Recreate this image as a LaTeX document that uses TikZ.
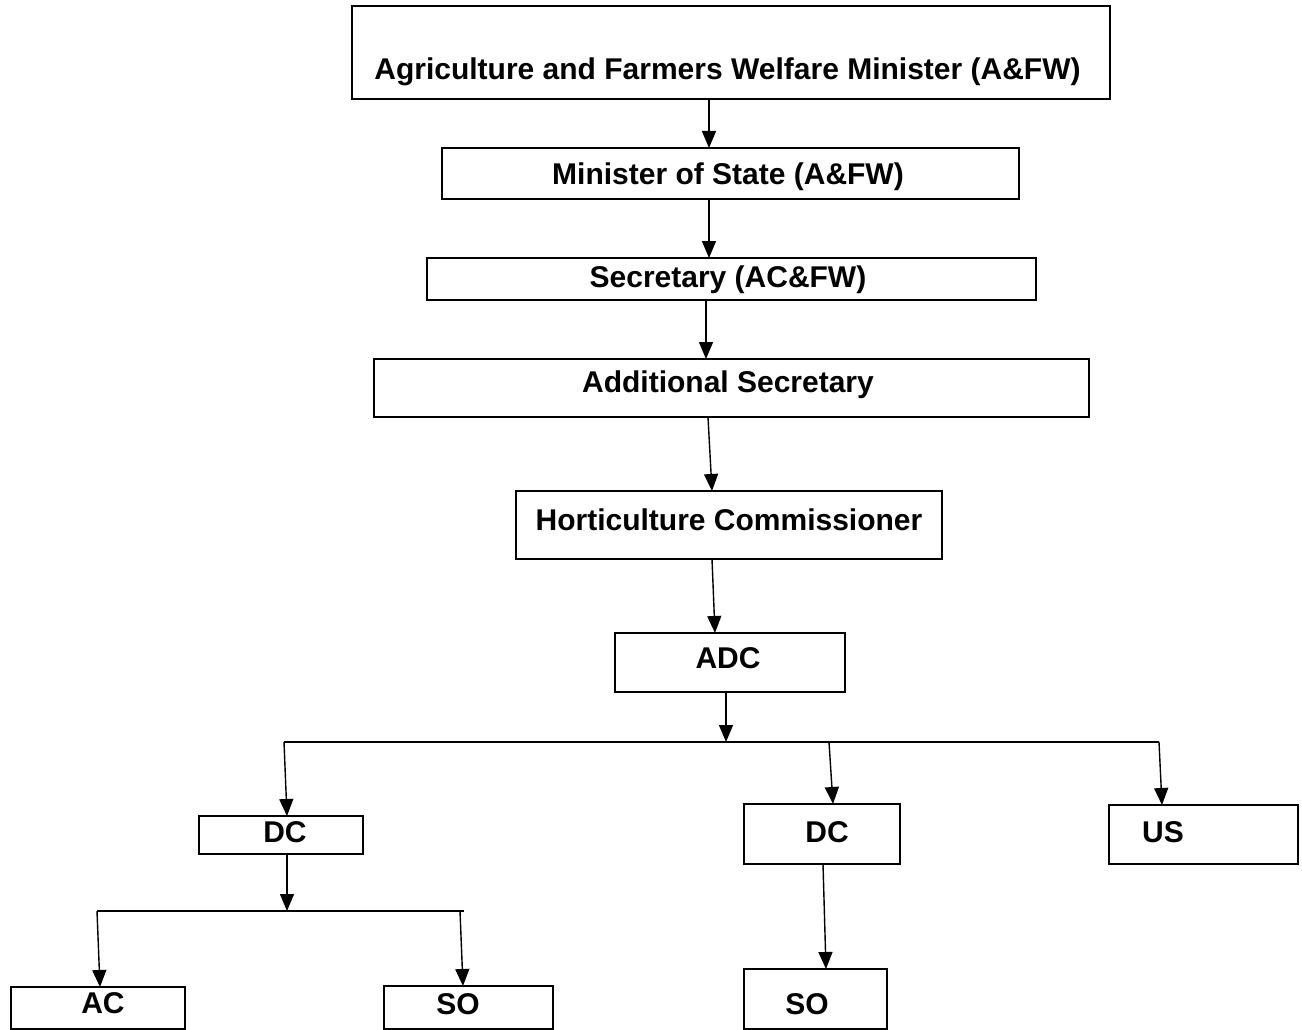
\documentclass[tikz,border=0pt]{standalone}
\usepackage{fontspec}
\setmainfont{Liberation Sans}
\usetikzlibrary{arrows.meta}
\begin{document}
\begin{tikzpicture}[x=1pt,y=-1pt,
  box/.style={draw=black, line width=2pt, inner sep=0pt, outer sep=0pt, rectangle},
  lbl/.style={anchor=base, inner sep=0pt, font=\fontsize{30}{36}\selectfont\bfseries},
  arr/.style={line width=1.4pt, -{Triangle[length=17pt,width=14pt]}},
  ln/.style={line width=1.4pt}]
\useasboundingbox (0,0) rectangle (1302,1030);
% boxes
\node[box, minimum width=758pt, minimum height=93pt] (n1) at (731,52.5) {};
\node[box, minimum width=577pt, minimum height=51pt] (n2) at (730.5,173.5) {};
\node[box, minimum width=609pt, minimum height=42pt] (n3) at (731.5,279) {};
\node[box, minimum width=715pt, minimum height=58pt] (n4) at (731.5,388) {};
\node[box, minimum width=426pt, minimum height=68pt] (n5) at (729,525) {};
\node[box, minimum width=230pt, minimum height=59pt] (adc) at (730,662.5) {};
\node[box, minimum width=164pt, minimum height=38pt] (dc1) at (281,835) {};
\node[box, minimum width=156pt, minimum height=60pt] (dc2) at (822,834) {};
\node[box, minimum width=189pt, minimum height=59pt] (us) at (1203.5,834.5) {};
\node[box, minimum width=174pt, minimum height=42pt] (ac) at (98,1008) {};
\node[box, minimum width=169pt, minimum height=43pt] (so1) at (468.5,1007.5) {};
\node[box, minimum width=143pt, minimum height=60pt] (so2) at (815.5,999) {};
% labels
\node[lbl] (t1) at (727.5,80) {Agriculture and Farmers Welfare Minister (A\&FW)};
\node[lbl] (t2) at (728,184.5) {Minister of State (A\&FW)};
\node[lbl] (t3) at (728,287) {Secretary (AC\&FW)};
\node[lbl] (t4) at (728,392) {Additional Secretary};
\node[lbl] (t5) at (729,530) {Horticulture Commissioner};
\node[lbl] (t6) at (728,668) {ADC};
\node[lbl] (t7) at (285,842) {DC};
\node[lbl] (t8) at (827,842) {DC};
\node[lbl] (t9) at (1163,842) {US};
\node[lbl] (t10) at (103,1013.5) {AC};
\node[lbl] (t11) at (458,1014) {SO};
\node[lbl] (t12) at (807,1014) {SO};
% bus coordinates
\coordinate (busL) at (284,742);
\coordinate (busM) at (829,742);
\coordinate (busR) at (1159,742);
\coordinate (busA) at (726,742);
\coordinate (bus2L) at (97,911);
\coordinate (bus2R) at (464,911);
\coordinate (bus2S) at (460,911);
\coordinate (bus2A) at (287,911);
% connectors
\draw[arr] ([xshift=-22pt]n1.south) -- ([xshift=-21.5pt]n2.north);
\draw[arr] ([xshift=-21.5pt]n2.south) -- ([xshift=-22.5pt]n3.north);
\draw[arr] ([xshift=-25.5pt]n3.south) -- ([xshift=-25.5pt]n4.north);
\draw[arr] ([xshift=-23.5pt]n4.south) -- ([xshift=-17pt]n5.north);
\draw[arr] ([xshift=-17pt]n5.south) -- ([xshift=-15pt]adc.north);
\draw[arr] ([xshift=-4pt]adc.south) -- (busA);
\draw[ln] (busL) -- (busR);
\draw[arr] (busL) -- ([xshift=6pt]dc1.north);
\draw[arr] (busM) -- ([xshift=11pt]dc2.north);
\draw[arr] (busR) -- ([xshift=-41.5pt]us.north);
\draw[arr] ([xshift=6pt]dc1.south) -- (bus2A);
\draw[ln] (bus2L) -- (bus2R);
\draw[arr] (bus2L) -- ([xshift=2pt]ac.north);
\draw[arr] (bus2S) -- ([xshift=-5.5pt]so1.north);
\draw[arr] ([xshift=1pt]dc2.south) -- ([xshift=10.5pt]so2.north);
\end{tikzpicture}
\end{document}
